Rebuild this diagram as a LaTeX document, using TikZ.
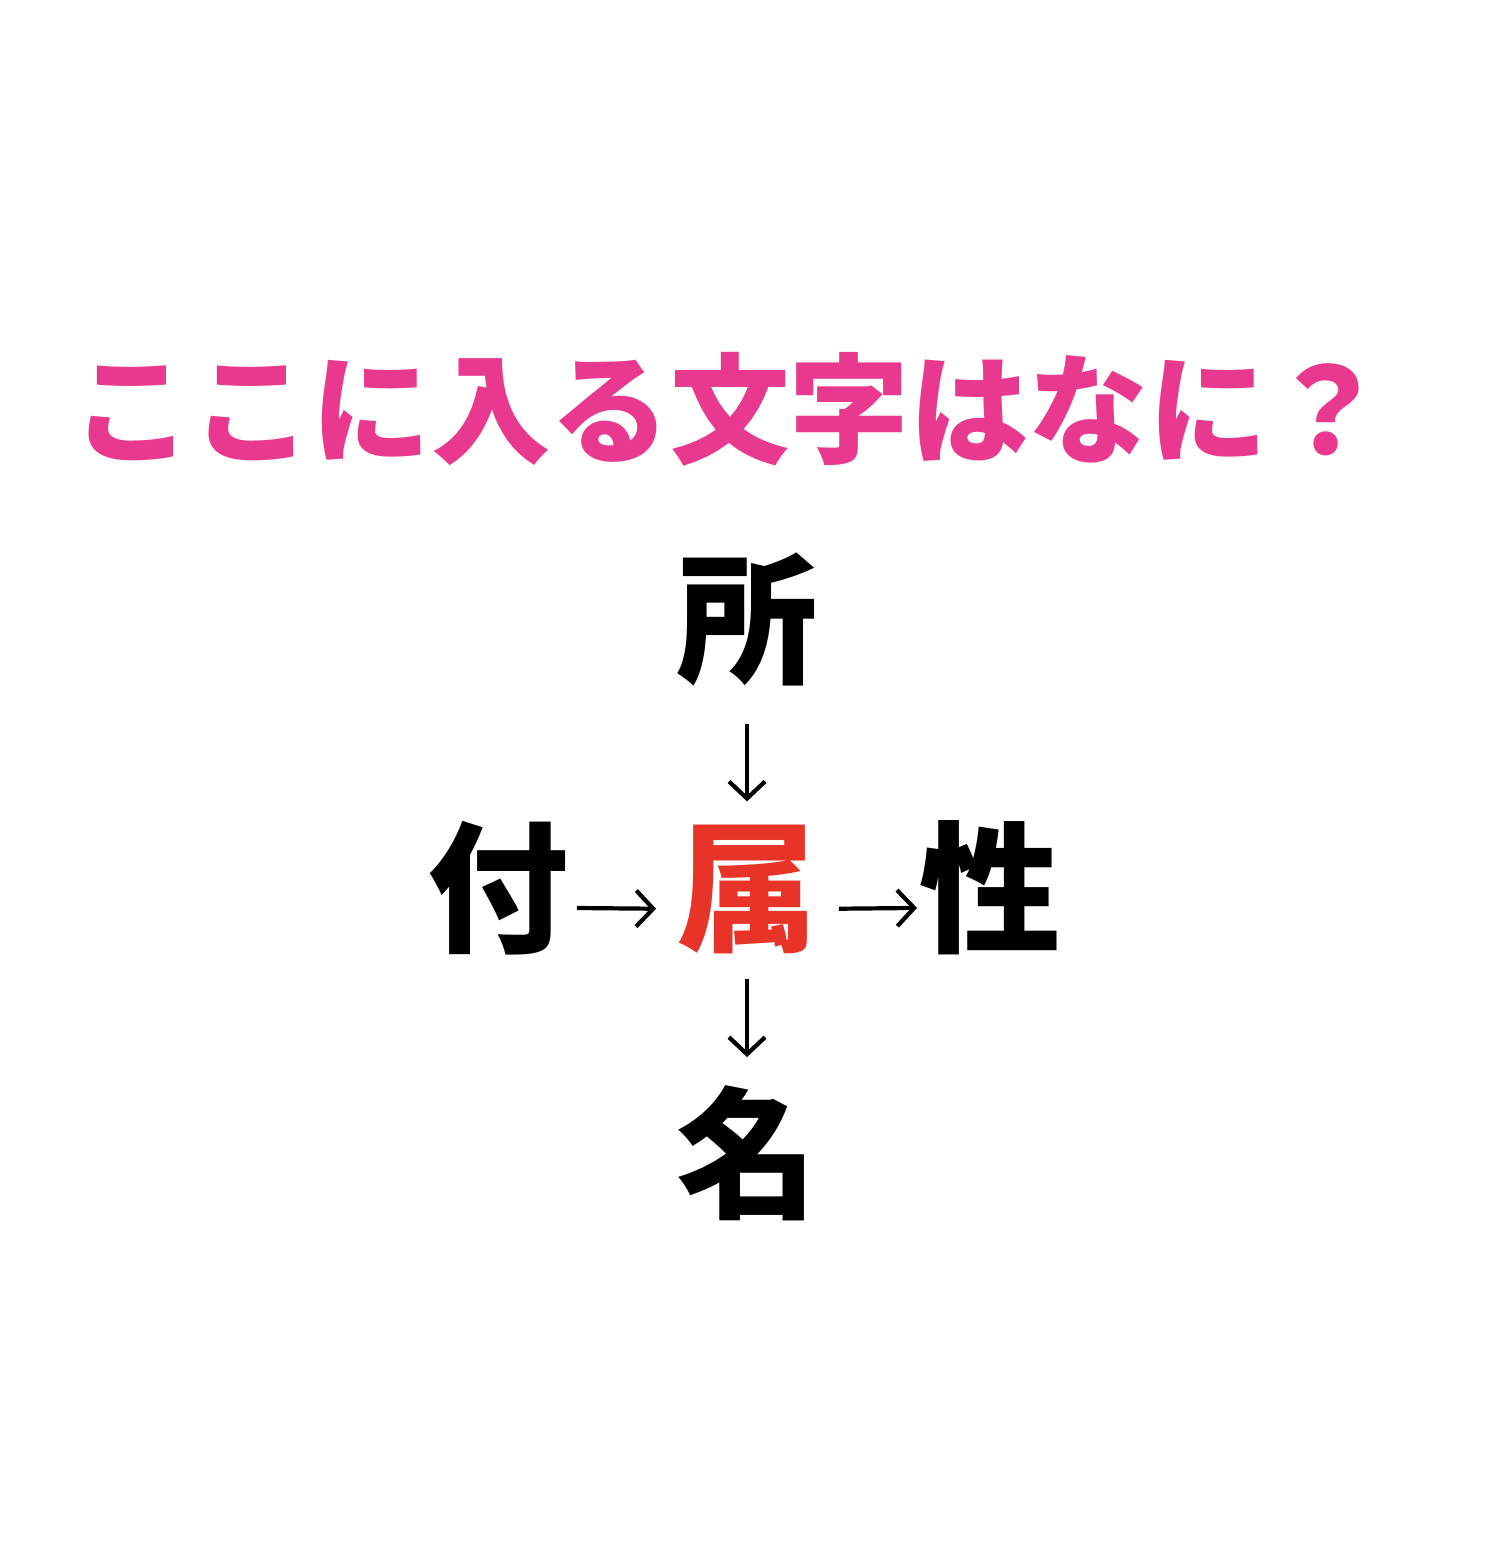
\documentclass[tikz,border=0pt]{standalone}
\usepackage{fontspec}
\usepackage{tikz}
\usetikzlibrary{arrows.meta}
\newfontfamily\jpfont{Noto Sans CJK JP}
\definecolor{qpink}{HTML}{E8398F}
\definecolor{ansred}{HTML}{E83428}
\tikzset{
    every node/.style={inner sep=0pt, font=\jpfont\bfseries}
}
\tikzset{kanji/.style={font=\jpfont\bfseries\fontsize{142}{142}\selectfont}}
\tikzset{arr/.style={line width=4.2bp, -{Straight Barb[length=17bp, width=36bp]}}}

\begin{document}
\begin{tikzpicture}[x=1bp, y=-1bp]
	\useasboundingbox (0,0) rectangle (1496,1562);
	\node (q) [text=qpink, font=\jpfont\bfseries\fontsize{120}{120}\selectfont] at (730,409) {ここに入る文字はなに？};
	
	\node (sho) [kanji] at (747,620) {所};
	\node (fu) [kanji] at (498,888) {付};
	\node (zoku) [kanji, text=ansred] at (747,889) {属};
	\node (sei) [kanji] at (990,888) {性};
	\node (mei) [kanji] at (747,1153) {名};
	
	\draw (sho) edge [arr, shorten <=37bp, shorten >=23bp] (zoku);
	\draw (zoku) edge [arr, shorten <=25bp, shorten >=28bp] (mei);
	\draw ([yshift=-20pt]fu.east) edge [arr, shorten <=8bp, shorten >=20bp] ([yshift=-20pt]zoku.west);
	\draw ([yshift=-20pt]zoku.east) edge [arr, shorten <=21bp, shorten >=2bp] ([yshift=-20pt]sei.west);
\end{tikzpicture}
\end{document}
